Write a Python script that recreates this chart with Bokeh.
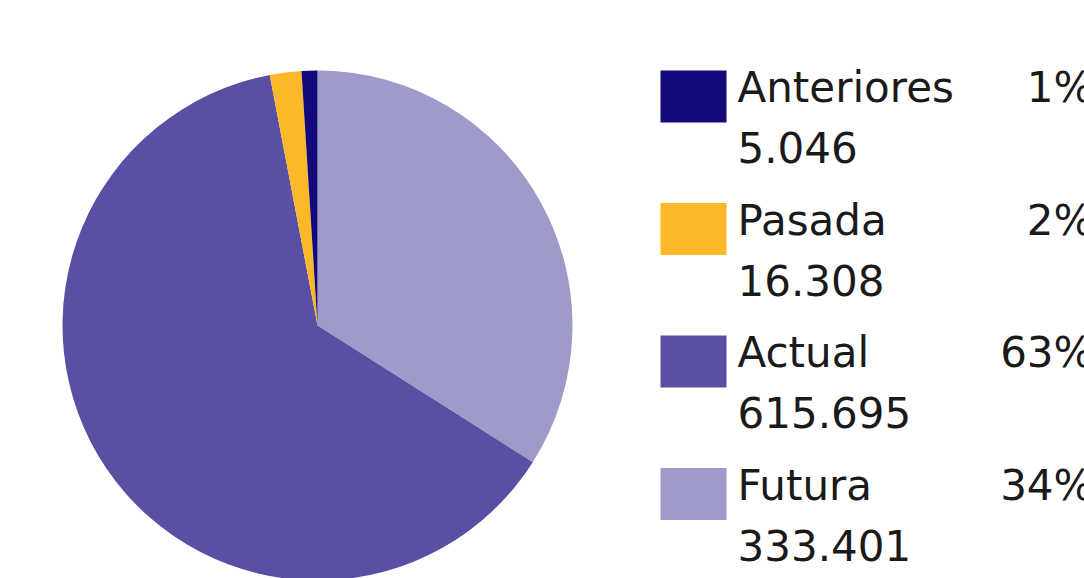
from math import pi
from bokeh.plotting import figure
from bokeh.models import Range1d
from bokeh.core.properties import value
from bokeh.embed import file_html
from bokeh.resources import INLINE

categories = ["Anteriores", "Pasada", "Actual", "Futura"]
values = [5046, 16308, 615695, 333401]
colors = ["#13097b", "#fbb829", "#5a50a3", "#9e9bcb"]

W, H = 1084, 578
p = figure(width=W, height=H, output_backend="svg", toolbar_location=None,
           x_range=Range1d(0, W), y_range=Range1d(0, H), min_border=0)
p.axis.visible = False
p.grid.visible = False
p.outline_line_color = None
p.background_fill_color = "white"

total = sum(values)
pct_vals = [round(v / total * 100) for v in values]
# pie: starts at 12 o'clock, clockwise, in order Futura, Actual, Pasada, Anteriores
order = [3, 2, 1, 0]
starts, ends, cols = [], [], []
a = pi / 2
for i in order:
    sweep = pct_vals[i] / sum(pct_vals) * 2 * pi
    starts.append(a)
    ends.append(a - sweep)
    cols.append(colors[i])
    a -= sweep
cx, cy, r = 317, H - 325, 255
p.wedge(x=cx, y=cy, radius=r, start_angle=starts, end_angle=ends,
        direction="clock", fill_color=cols, line_color=None)

# legend
font = value("DejaVu Sans")
row0, pitch = 96, 132.5
ys = [H - (row0 + k * pitch) for k in range(len(categories))]
p.rect(x=[693] * 4, y=ys, width=66, height=52, fill_color=colors, line_color=None)
pct = [f"{v}%" for v in pct_vals]
nums = [f"{v:,}".replace(",", ".") for v in values]
p.text(x=[737] * 4, y=[y + 9 for y in ys], text=categories, text_font=font,
       text_font_size="42px", text_color="#1a1a1a", text_baseline="alphabetic")
p.text(x=[1093] * 4, y=[y + 9 for y in ys], text=pct, text_font=font,
       text_font_size="42px", text_color="#1a1a1a", text_align="right",
       text_baseline="alphabetic")
p.text(x=[737] * 4, y=[y - 51 for y in ys], text=nums, text_font=font,
       text_font_size="42px", text_color="#1a1a1a", text_baseline="alphabetic")

open("out.html", "w").write(file_html(p, INLINE))
